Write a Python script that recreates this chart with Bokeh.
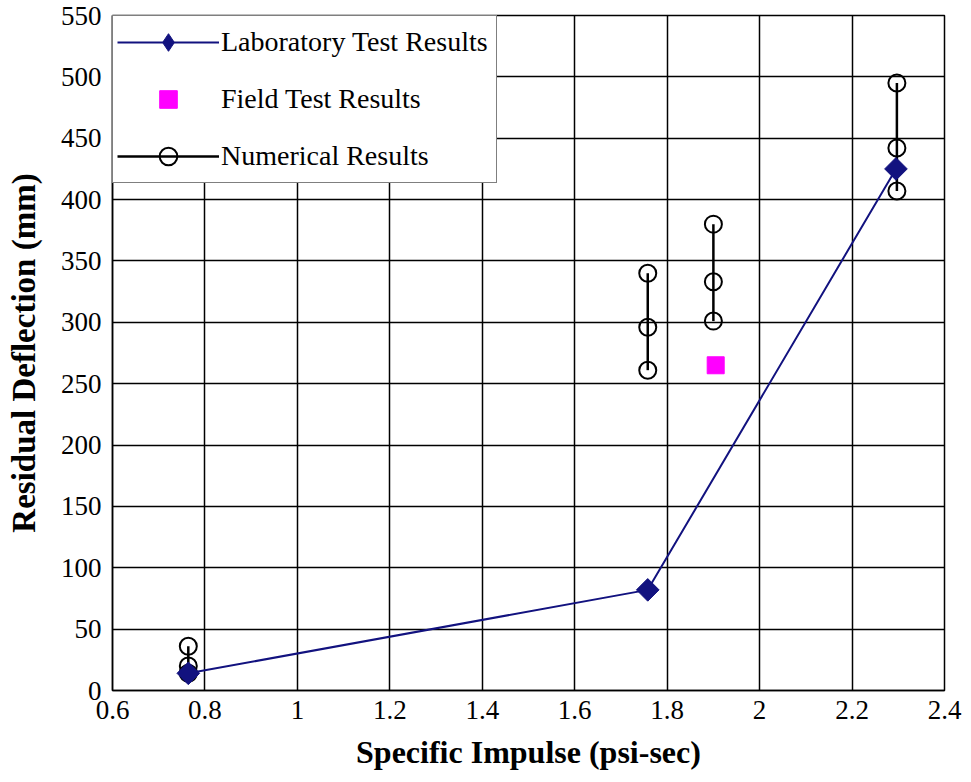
import math
from bokeh.plotting import figure
from bokeh.models import Legend, LegendItem, FixedTicker, Range1d
from bokeh.embed import file_html
from bokeh.resources import INLINE

# Data
lab_x = [0.764, 1.758, 2.295]
lab_y = [14, 82, 425]

field_x = [1.905]
field_y = [265]

num_x = [0.764, 1.758, 1.900, 2.297]
num_low = [14, 261, 301, 407]
num_mid = [20, 296, 333, 442]
num_high = [36, 340, 380, 495]

x_ticks = [0.6, 0.8, 1.0, 1.2, 1.4, 1.6, 1.8, 2.0, 2.2, 2.4]
x_tick_labels = ["0.6", "0.8", "1", "1.2", "1.4", "1.6", "1.8", "2", "2.2", "2.4"]
y_ticks = [0, 50, 100, 150, 200, 250, 300, 350, 400, 450, 500, 550]

FONT = "Liberation Serif"

p = figure(width=971, height=782, output_backend="svg", toolbar_location=None,
           x_range=Range1d(0.6, 2.4), y_range=Range1d(0, 550),
           min_border_left=112, min_border_right=27, min_border_top=15, min_border_bottom=92)

p.outline_line_color = "black"
p.outline_line_width = 1.5

for ax in (p.xaxis, p.yaxis):
    ax.major_label_text_font = FONT
    ax.major_label_text_font_size = "27px"
    ax.major_label_text_color = "black"
    ax.axis_label_text_font = FONT
    ax.axis_label_text_font_style = "bold"
    ax.axis_label_text_color = "black"
    ax.major_tick_out = 0
    ax.major_tick_in = 0
    ax.minor_tick_out = 0
    ax.minor_tick_in = 0
    ax.axis_line_color = "black"
    ax.axis_line_width = 1.5

p.xaxis.axis_label_text_font_size = "32px"
p.yaxis.axis_label_text_font_size = "33px"
p.xaxis.ticker = FixedTicker(ticks=x_ticks)
p.xaxis.major_label_overrides = {t: l for t, l in zip(x_ticks, x_tick_labels)}
p.yaxis.ticker = FixedTicker(ticks=y_ticks)
p.xaxis.axis_label = "Specific Impulse (psi-sec)"
p.yaxis.axis_label = "Residual Deflection (mm)"
p.xaxis.major_label_standoff = 10
p.yaxis.major_label_standoff = 11
p.xaxis.axis_label_standoff = 12
p.yaxis.axis_label_standoff = 16

p.xgrid.grid_line_color = "black"
p.ygrid.grid_line_color = "black"
p.xgrid.grid_line_width = 1.5
p.ygrid.grid_line_width = 1.5
p.xgrid.grid_line_alpha = 1
p.ygrid.grid_line_alpha = 1

NAVY = "#12127f"

lab_line = p.line(lab_x, lab_y, line_color=NAVY, line_width=2)

num_seg = p.segment(x0=num_x, y0=num_low, x1=num_x, y1=num_high, line_color="black", line_width=2.5)
circ_x = num_x * 3
circ_y = num_low + num_mid + num_high
num_circ = p.scatter(circ_x, circ_y, marker="circle", size=17, line_color="black",
                     line_width=2, fill_alpha=0)

lab_pts = p.scatter(lab_x, lab_y, marker="square", angle=math.pi / 4, size=16,
                    fill_color=NAVY, line_color=NAVY)
# legend-only marker (the legend ignores marker rotation); hidden in the plot
lab_key = p.scatter(lab_x, lab_y, marker="diamond", size=23, fill_color=NAVY, line_color=NAVY,
                    visible=False)

field = p.scatter(field_x, field_y, marker="square", size=17, fill_color="#ff00ff", line_color="#ff00ff")

legend = Legend(items=[
    LegendItem(label="Laboratory Test Results", renderers=[lab_line, lab_key]),
    LegendItem(label="Field Test Results", renderers=[field]),
    LegendItem(label="Numerical Results", renderers=[num_seg, num_circ]),
], location="top_left")
legend.margin = 0
legend.padding = 4
legend.spacing = 13
legend.glyph_width = 102
legend.glyph_height = 44
legend.label_height = 44
legend.label_width = 271
legend.label_text_font = FONT
legend.label_text_font_size = "28px"
legend.label_text_color = "black"
legend.label_standoff = 2
legend.border_line_color = "black"
legend.border_line_width = 1.5
legend.background_fill_alpha = 1
p.add_layout(legend)

open("out.html", "w").write(file_html(p, INLINE))
